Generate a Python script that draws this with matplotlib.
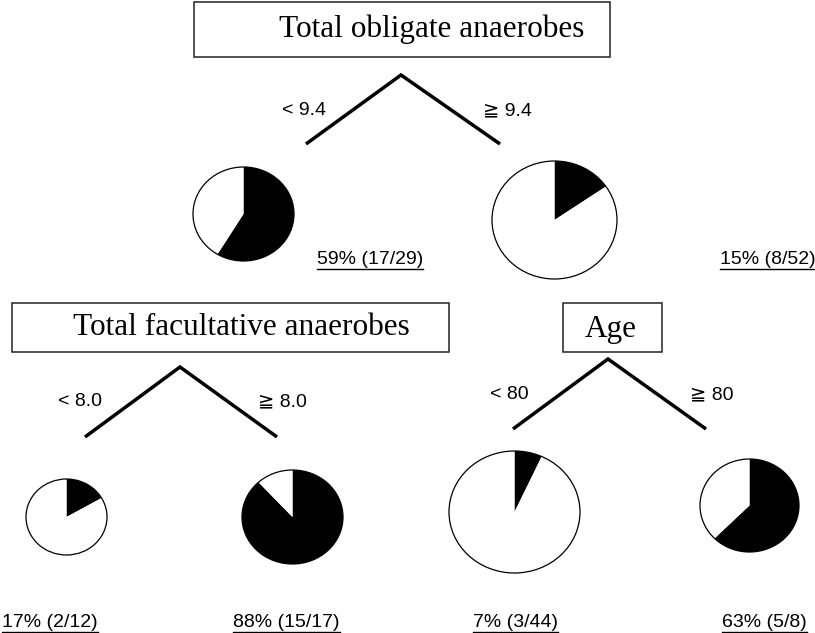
"""Decision tree with pie charts of outcome rates in each node"""

import matplotlib
matplotlib.use("Agg")
import matplotlib.pyplot as plt
from matplotlib.patches import Rectangle, Circle

W, H = 815, 633

# split variables and cut-offs
split_titles = ["Total obligate anaerobes", "Total facultative anaerobes", "Age"]
left_labels = ["< 9.4", "< 8.0", "< 80"]
right_labels = ["\u2267 9.4", "\u2267 8.0", "\u2267 80"]

# leaf / node outcomes: positives and totals
positives = [17, 8, 2, 15, 3, 5]
totals = [29, 52, 12, 17, 44, 8]

SANS = ["Liberation Sans", "DejaVu Sans"]
SERIF = ["Liberation Serif", "DejaVu Serif"]

# layout in pixels from top-left
boxes = [(194, 2, 610, 57, 432, 37.5), (12, 303, 449, 352, 241, 335), (563, 303, 662, 352, 611, 337)]
splits = [((401, 75), (306, 144), (500, 144)),
          ((180, 367), (85, 437), (277, 437)),
          ((608, 359), (513, 429), (706, 429))]
split_lab_pos = [((304, 115), (507, 115)), ((80, 406), (282, 406)), ((509, 399), (712, 399))]
pie_boxes = [(193, 167, 294, 261), (492, 161, 617, 279), (26, 479, 107, 555),
             (242, 470, 343, 564), (449, 451, 580, 573), (700, 459, 799, 552)]
pct_pos = [(317, 264.5), (720, 264.5), (2, 627), (233, 627), (473, 627), (722, 627)]

fig = plt.figure(figsize=(W / 100, H / 100), dpi=100)
ax = fig.add_axes([0, 0, 1, 1])
ax.set_xlim(0, W)
ax.set_ylim(H, 0)
ax.axis("off")

for (x0, y0, x1, y1, tx, ty), title in zip(boxes, split_titles):
    ax.add_patch(Rectangle((x0, y0), x1 - x0, y1 - y0, fill=False, edgecolor="#222222", lw=1.1))
    ax.text(tx, ty, title, family=SERIF, fontsize=22.5, ha="center", va="baseline")

for (apex, left, right), (lp, rp), ll, rl in zip(splits, split_lab_pos, left_labels, right_labels):
    ax.plot([left[0], apex[0], right[0]], [left[1], apex[1], right[1]], color="black", lw=2.5,
            solid_joinstyle="miter", solid_capstyle="butt")
    ax.text(lp[0], lp[1], ll, family=SANS, fontsize=14, ha="center", va="baseline")
    ax.text(rp[0], rp[1], rl, family=SANS, fontsize=14, ha="center", va="baseline")

labels = []
for (x, y), pos, tot in zip(pct_pos, positives, totals):
    pct = int(100 * pos / tot + 0.5)
    t = ax.text(x, y, f"{pct}% ({pos}/{tot})", family=SANS, fontsize=14, ha="left", va="baseline")
    labels.append((t, y))

# pies, each in its own small axes so the slightly squashed circles match
for (x0, y0, x1, y1), pos, tot in zip(pie_boxes, positives, totals):
    pax = fig.add_axes([x0 / W, 1 - y1 / H, (x1 - x0) / W, (y1 - y0) / H])
    pax.pie([pos, tot - pos], colors=["black", "white"], startangle=90, counterclock=False,
            radius=1, wedgeprops={"linewidth": 0}, frame=True)
    pax.add_patch(Circle((0, 0), 1, fill=False, edgecolor="black", lw=0.9, clip_on=False))
    pax.set_aspect("auto")
    pax.set_xlim(-1, 1)
    pax.set_ylim(-1, 1)
    pax.axis("off")

# underline the percentage labels
fig.canvas.draw()
renderer = fig.canvas.get_renderer()
for t, y in labels:
    bb = t.get_window_extent(renderer)
    ax.plot([bb.x0, bb.x1], [y + 4.5, y + 4.5], color="black", lw=1.0)

fig.savefig("out.png", dpi=100)
